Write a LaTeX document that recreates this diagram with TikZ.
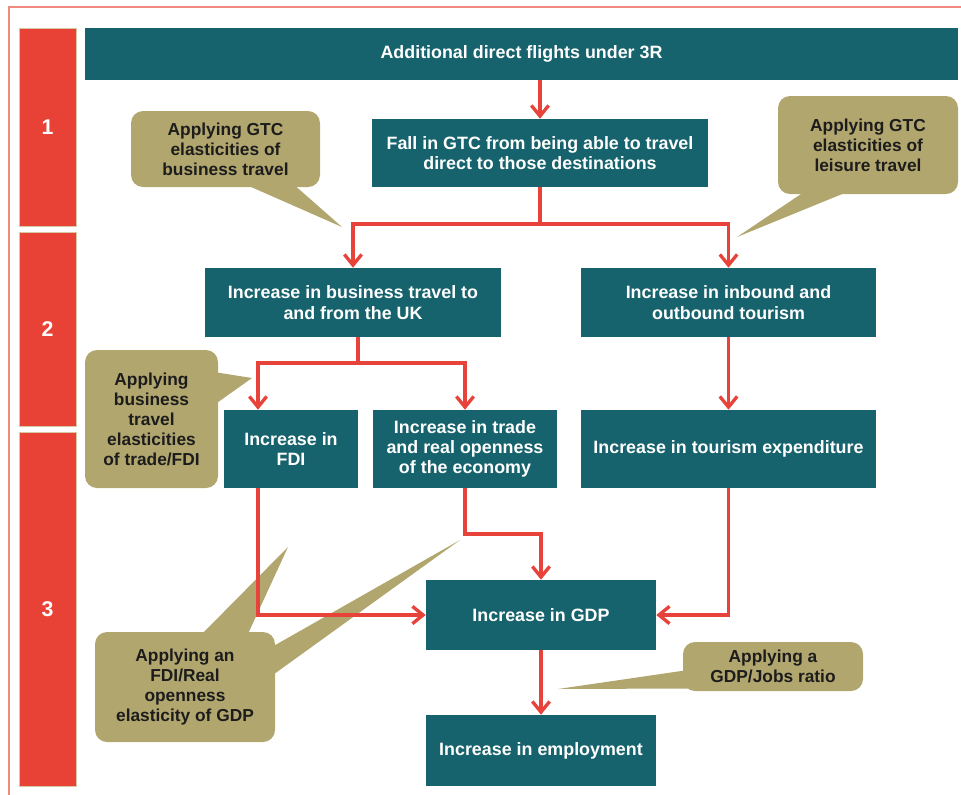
\documentclass[tikz,border=0pt]{standalone}
\usepackage{fontspec}
\setmainfont{Liberation Sans}
\usetikzlibrary{arrows.meta}

\definecolor{boxteal}{HTML}{17636D}
\definecolor{barred}{HTML}{E84135}
\definecolor{barrim}{HTML}{D6C7A2}
\definecolor{linkred}{HTML}{E8433A}
\definecolor{calltan}{HTML}{B2A66F}
\definecolor{calltext}{HTML}{1C1C1C}
\definecolor{framered}{HTML}{F08A80}

\tikzset{
  sz/.style 2 args={minimum width={#1*0.75pt}, minimum height={#2*0.75pt}},
  stepbox/.style={fill=boxteal, text=white, align=center, inner sep=0pt,
    font=\bfseries\fontsize{13.4}{15.2}\selectfont},
  callout/.style={fill=calltan, text=calltext, align=center, inner sep=0pt,
    rounded corners=9pt, font=\bfseries\fontsize{13}{15}\selectfont},
  phase/.style={fill=barred, draw=barrim, line width=0.6pt, text=white,
    inner sep=0pt, font=\bfseries\fontsize{16}{18}\selectfont},
  link/.style={draw=linkred, line width=2.5pt,
    -{Straight Barb[length=8pt,width=13pt,line width=2.5pt]}},
  linkplain/.style={draw=linkred, line width=2.5pt},
}

\begin{document}
\begin{tikzpicture}[x=0.75pt,y=-0.75pt]
\useasboundingbox (0,0) rectangle (961,794);

% outer frame
\draw[framered, line width=0.8pt] (9,800) -- (9,7) -- (970,7);

% phase bars
\node[phase, sz={57}{198}] (ph1) at (47.5,127) {1};
\node[phase, sz={57}{194}] (ph2) at (47.5,329) {2};
\node[phase, sz={57}{354}] (ph3) at (47.5,609) {3};

% callout pointers
\coordinate (t1) at (342,227);
\coordinate (t2) at (737,237);
\coordinate (t3) at (252,378);
\coordinate (t4a) at (288,547);
\coordinate (t4b) at (460,540);
\coordinate (t5) at (558,689);
\fill[calltan] (242,183) -- (292,183) -- (t1) -- cycle;
\fill[calltan] (807,190) -- (852,190) -- (t2) -- cycle;
\fill[calltan] (214,372) -- (214,405) -- (t3) -- cycle;
\fill[calltan] (200,636) -- (247,636) -- (t4a) -- cycle;
\fill[calltan] (270,648) -- (270,677) -- (t4b) -- cycle;
\fill[calltan] (688,670) -- (688,688.5) -- (t5) -- cycle;

% callouts
\node[callout, sz={189}{76}] (c1) at (225.5,149) {Applying GTC\\elasticities of\\business travel};
\node[callout, sz={180}{98}] (c2) at (868,145) {Applying GTC\\elasticities of\\leisure travel};
\node[callout, sz={133}{138}] (c3) at (151.5,419) {Applying\\business\\travel\\elasticities\\of trade/FDI};
\node[callout, sz={180}{110}] (c4) at (185,687) {Applying an\\FDI/Real\\openness\\elasticity of GDP};
\node[callout, sz={180}{49}] (c5) at (773,666.5) {Applying a\\GDP/Jobs ratio};

% causal chain
\node[stepbox, sz={873}{52}] (top) at (521.5,54) {Additional direct flights under 3R};
\node[stepbox, sz={336}{68}] (fall) at (540,153) {Fall in GTC from being able to travel\\direct to those destinations};
\node[stepbox, sz={296}{69}] (biz) at (353,302.5) {Increase in business travel to\\and from the UK};
\node[stepbox, sz={295}{69}] (inb) at (728.5,302.5) {Increase in inbound and\\outbound tourism};
\node[stepbox, sz={134}{78}] (fdi) at (291,449) {Increase in\\FDI};
\node[stepbox, sz={184}{78}] (trade) at (465,449) {Increase in trade\\and real openness\\of the economy};
\node[stepbox, sz={295}{78}] (tour) at (728.5,449) {Increase in tourism expenditure};
\node[stepbox, sz={230}{70}] (gdp) at (541,615) {Increase in GDP};
\node[stepbox, sz={230}{71}] (emp) at (541,750.5) {Increase in employment};

% connectors
\coordinate (j1) at (540,224);
\coordinate (j2) at (358,363);
\coordinate (a1) at (258,363);
\coordinate (j3) at (465,534);

\draw[link] (fall.north |- top.south) -- (fall.north);
\draw[linkplain] (fall.south) -- (j1);
\draw[link] (j1) -| (biz.north);
\draw[link] (j1) -| (inb.north);
\draw[linkplain] (biz.south -| j2) -- (j2);
\draw[link] (j2) -- (a1) -- (a1 |- fdi.north);
\draw[link] (j2) -| (trade.north);
\draw[link] (inb.south) -- (tour.north);
\draw[link] (a1 |- fdi.south) |- (gdp.west);
\draw[link] (trade.south) -- (j3) -| (gdp.north);
\draw[link] (tour.south) |- (gdp.east);
\draw[link] (gdp.south) -- (emp.north);
\end{tikzpicture}
\end{document}
